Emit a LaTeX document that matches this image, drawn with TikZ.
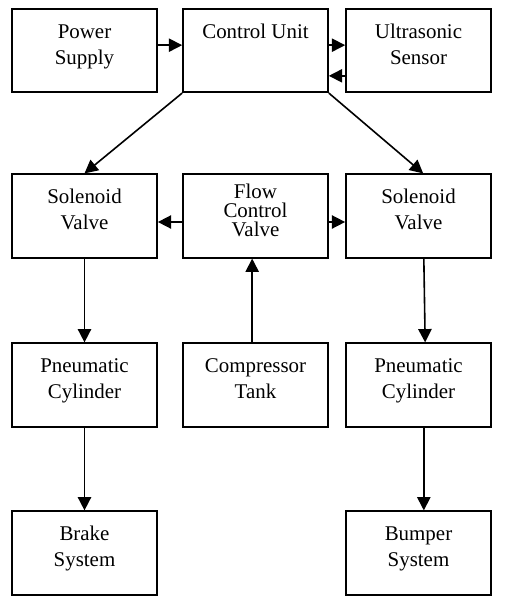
\documentclass[tikz,border=0pt]{standalone}
\usepackage{fontspec}
\setmainfont{Liberation Serif}
\usetikzlibrary{arrows.meta}

\begin{document}
\begin{tikzpicture}[x=0.75pt, y=-0.75pt,
  block/.style={draw, line width=1.3pt, minimum width=108.75pt, minimum height=62.6pt, inner sep=0pt},
  lbl/.style={anchor=north, align=center, inner sep=0pt, font=\fontsize{15.7}{19.5}\selectfont},
  flowlbl/.style={lbl, font=\fontsize{15.7}{14.25}\selectfont},
  conn/.style={-{Triangle[length=10pt, width=10pt]}, line width=1.2pt}]
  \useasboundingbox (0,0) rectangle (506,604);

  %% Top row
  \node[block] (ps) at (84.5,50.5) {};
  \node[lbl] (ps-t) at ([yshift=-9pt]ps.north) {\strut Power\\Supply};
  \node[block] (cu) at (255.5,50.5) {};
  \node[lbl] (cu-t) at ([yshift=-9pt]cu.north) {\strut Control Unit};
  \node[block] (us) at (418.5,50.5) {};
  \node[lbl] (us-t) at ([yshift=-9pt]us.north) {\strut Ultrasonic\\Sensor};

  %% Valve row
  \node[block] (svl) at (84.5,216) {};
  \node[lbl] (svl-t) at ([yshift=-9pt]svl.north) {\strut Solenoid\\Valve};
  \node[block] (fcv) at (255.5,216) {};
  \node[flowlbl] (fcv-t) at ([yshift=-8pt]fcv.north) {Flow\\Control\\Valve};
  \node[block] (svr) at (418.5,216) {};
  \node[lbl] (svr-t) at ([yshift=-9pt]svr.north) {\strut Solenoid\\Valve};

  %% Cylinder row
  \node[block] (pcl) at (84.5,385) {};
  \node[lbl] (pcl-t) at ([yshift=-9pt]pcl.north) {\strut Pneumatic\\Cylinder};
  \node[block] (ct) at (255.5,385) {};
  \node[lbl] (ct-t) at ([yshift=-9pt]ct.north) {\strut Compressor\\Tank};
  \node[block] (pcr) at (418.5,385) {};
  \node[lbl] (pcr-t) at ([yshift=-9pt]pcr.north) {\strut Pneumatic\\Cylinder};

  %% Output row
  \node[block] (bs) at (84.5,553) {};
  \node[lbl] (bs-t) at ([yshift=-9pt]bs.north) {\strut Brake\\System};
  \node[block] (bmp) at (418.5,553) {};
  \node[lbl] (bmp-t) at ([yshift=-9pt]bmp.north) {\strut Bumper\\System};

  %% Connectors
  \draw[conn] ([yshift=4pt]ps.east) -- ([yshift=4pt]cu.west);
  \draw[conn] ([yshift=4pt]cu.east) -- ([yshift=4pt]us.west);
  \draw[conn] ([yshift=-19pt]us.west) -- ([yshift=-19pt]cu.east);
  \draw[conn] (cu.south west) -- (svl.north);
  \draw[conn] (cu.south east) -- ([xshift=3.5pt]svr.north);
  \draw[conn] ([yshift=-4.5pt]fcv.west) -- ([yshift=-4.5pt]svl.east);
  \draw[conn] ([yshift=-4.5pt]fcv.east) -- ([yshift=-4.5pt]svr.west);
  \draw[conn] ([xshift=-2.5pt]ct.north) -- ([xshift=-2.5pt]fcv.south);
  \draw[conn] (svl.south) -- (pcl.north);
  \draw[conn] (pcl.south) -- (bs.north);
  \draw[conn] ([xshift=4pt]svr.south) -- ([xshift=5pt]pcr.north);
  \draw[conn] ([xshift=4pt]pcr.south) -- ([xshift=4pt]bmp.north);
\end{tikzpicture}
\end{document}
